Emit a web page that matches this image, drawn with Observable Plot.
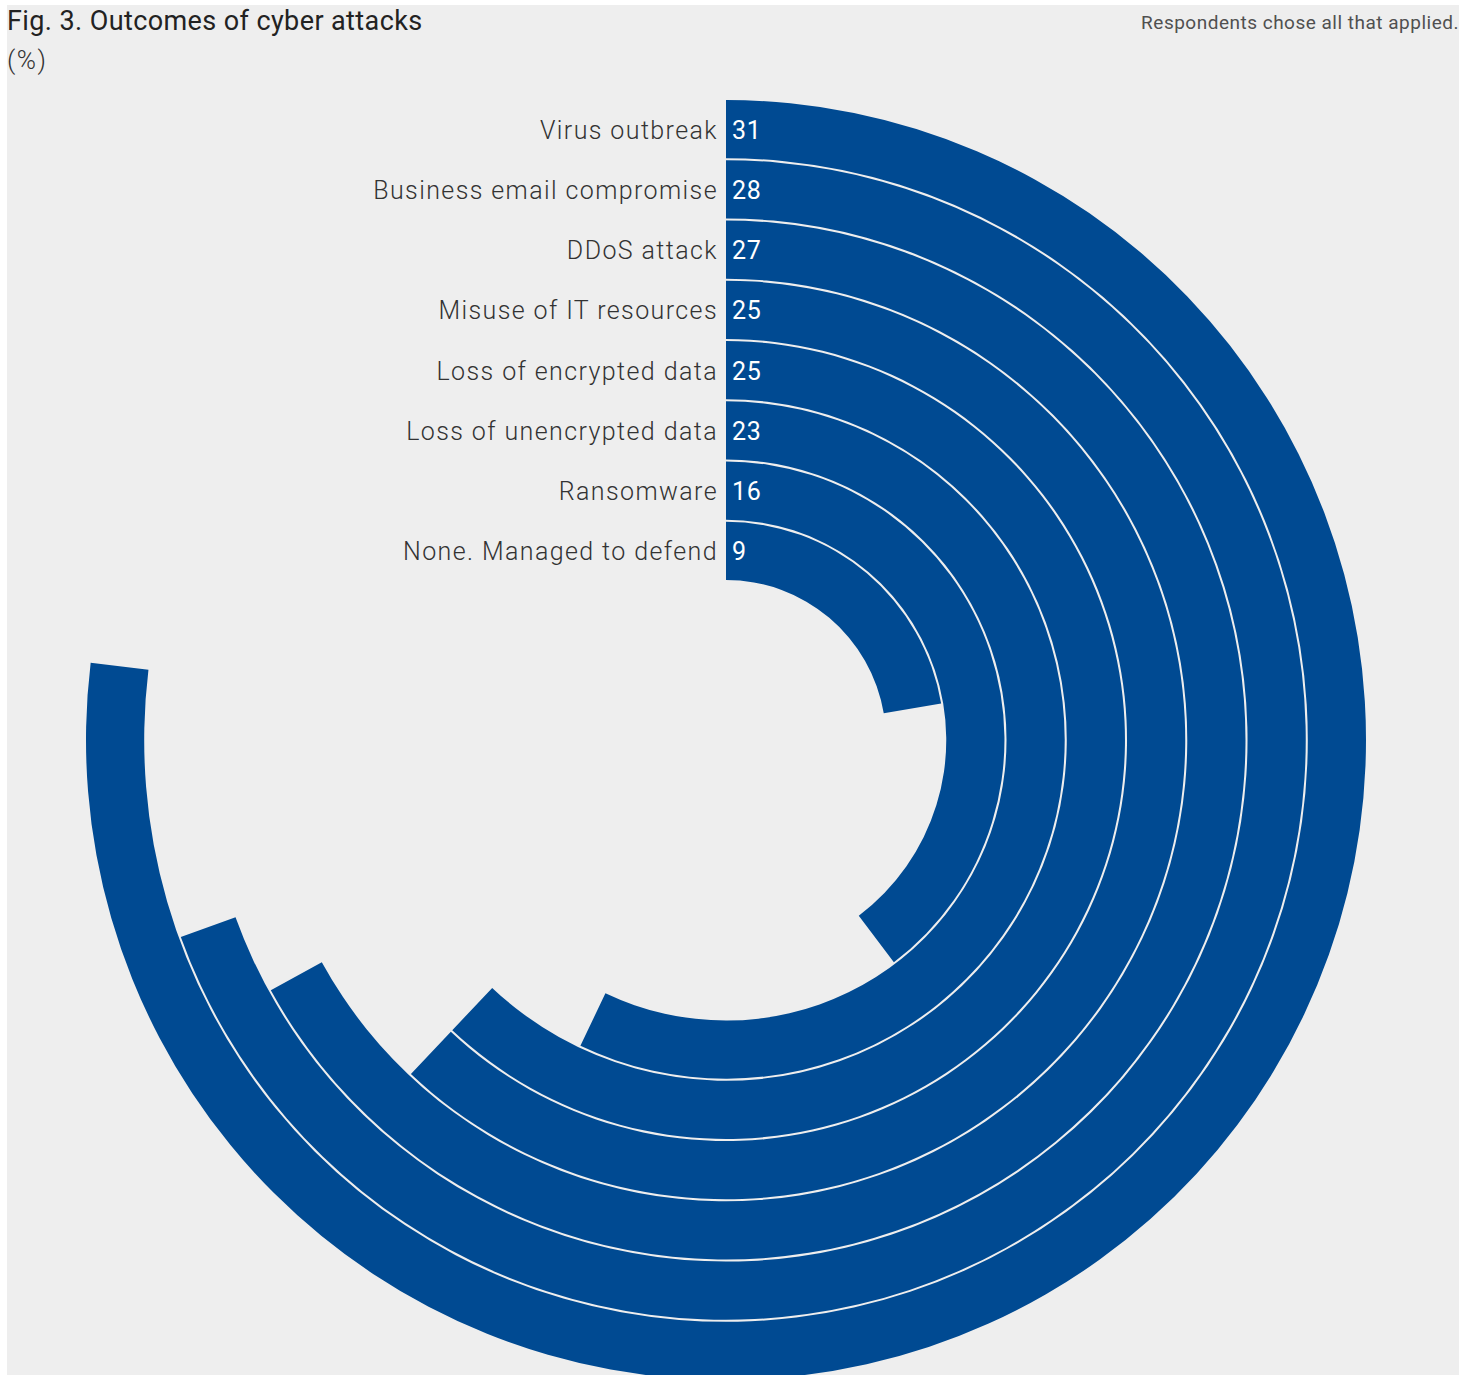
<!DOCTYPE html>
<html><head><meta charset="utf-8">
<script src="https://cdn.jsdelivr.net/npm/d3@7"></script>
<script src="https://cdn.jsdelivr.net/npm/@observablehq/plot@0.6"></script>
<style>
body{margin:0;background:#fff;}
#wrap{position:absolute;left:7px;top:5px;width:1452px;height:1375px;background:#eeeeee;overflow:hidden;font-family:"Helvetica Neue",Roboto,"Liberation Sans",sans-serif;}
#chart{position:absolute;left:0;top:0}
#title{position:absolute;left:0;top:0px;font-size:27px;color:#222;white-space:nowrap;letter-spacing:0.4px}
#unit{position:absolute;left:0;top:40px;font-size:26px;color:#333;font-weight:300;letter-spacing:1.5px}
#note{position:absolute;right:0px;top:6px;font-size:19px;color:#505050;letter-spacing:0.5px;white-space:nowrap}
</style></head>
<body><div id="wrap"><div id="chart"></div><div id="title">Fig. 3. Outcomes of cyber attacks</div><div id="unit">(%)</div><div id="note">Respondents chose all that applied.</div></div>
<script>
const categories = ["Virus outbreak", "Business email compromise", "DDoS attack", "Misuse of IT resources", "Loss of encrypted data", "Loss of unencrypted data", "Ransomware", "None. Managed to defend"];
const values = [31, 28, 27, 25, 25, 23, 16, 9];
const data = categories.map((c, i) => ({category: c, value: values[i]}));

const CX = 719, CY = 735;
const BLUE = "#004a92";
const angleMax = d3.max(values) * 1.3;

function bw(scales) {
  let b = scales.y && scales.y.bandwidth;
  if (typeof b === "function") b = b();
  if (!(b > 0) && scales.scales && scales.scales.y) b = scales.scales.y.bandwidth;
  return +b;
}

function arcRender(index, scales, V) {
  const b = bw(scales);
  const arc = d3.arc();
  const g = d3.create("svg:g").attr("transform", `translate(${CX},${CY})`);
  g.selectAll("path").data(index).join("path")
    .attr("fill", BLUE)
    .attr("d", i => arc({innerRadius: V.y[i], outerRadius: V.y[i] + b, startAngle: V.x1[i], endAngle: V.x2[i]}));
  return g.node();
}

function labelRender(index, scales, V) {
  const b = bw(scales);
  const g = d3.create("svg:g").attr("transform", `translate(${CX},${CY})`);
  g.selectAll("text.lab").data(index).join("text").attr("class", "lab")
    .attr("x", -8).attr("y", i => -(V.y[i] + b / 2)).attr("dy", "0.38em")
    .attr("text-anchor", "end").attr("fill", "#333").attr("font-size", 25).attr("font-weight", 300)
    .attr("letter-spacing", "1.4px")
    .text(i => data[i].category);
  g.selectAll("text.val").data(index).join("text").attr("class", "val")
    .attr("x", 6).attr("y", i => -(V.y[i] + b / 2)).attr("dy", "0.38em")
    .attr("text-anchor", "start").attr("fill", "#fff").attr("font-size", 25)
    .attr("letter-spacing", "0.6px")
    .text(i => data[i].value);
  return g.node();
}

const chart = Plot.plot({
  width: 1452,
  height: 1375,
  margin: 0,
  style: {background: "transparent", fontFamily: "'Helvetica Neue', Roboto, 'Liberation Sans', sans-serif"},
  x: {domain: [0, angleMax], range: [0, 2 * Math.PI], axis: null},
  y: {domain: categories.slice().reverse(), range: [160, 640], paddingInner: 0.034, paddingOuter: 0, round: false, axis: null},
  marks: [
    Plot.barX(data, {x: "value", y: "category", render: arcRender}),
    Plot.text(data, {y: "category", text: "category", render: labelRender})
  ]
});
document.getElementById("chart").appendChild(chart);
</script>
</body></html>
